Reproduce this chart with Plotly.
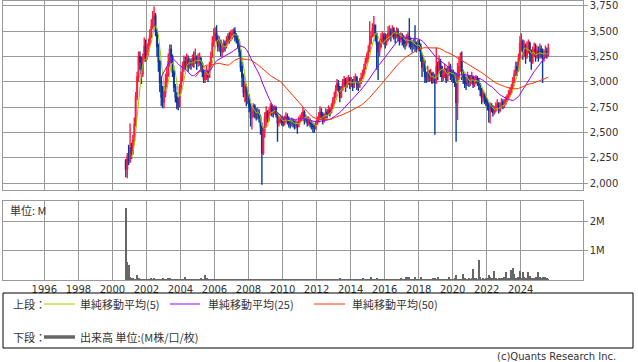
import pandas as pd
import plotly.graph_objects as go

# ---------------- data (monthly, Oct 2000 - Aug 2025) ----------------
start_month = "2000-10-01"
first_open = 2220

close_vals = [
    2140, 2260, 2220,
    2350, 2300, 2420, 2580, 2850, 3050, 3250, 3200, 3080, 3230, 3350, 3250,
    3300, 3380, 3450, 3550, 3620, 3650, 3500, 3350, 3200, 3000, 2850, 2800,
    2900, 3000, 3080, 3200, 3320, 3250, 3100, 2950, 2850, 2800, 2760, 2950,
    3050, 3150, 3200, 3180, 3220, 3150, 3200, 3180, 3230, 3200, 3250, 3190,
    3200, 3230, 3180, 3100, 3030, 3060, 3100, 3050, 3150, 3250, 3380, 3450,
    3480, 3420, 3350, 3400, 3300, 3320, 3380, 3360, 3400, 3450, 3430, 3470,
    3480, 3500, 3450, 3420, 3400, 3300, 3150, 3050, 2900, 2950, 2820, 2850,
    2750, 2650, 2700, 2760, 2700, 2660, 2700, 2650, 2560, 2300, 2520, 2650,
    2700, 2640, 2700, 2750, 2720, 2700, 2740, 2680, 2600, 2620, 2640, 2610,
    2600, 2620, 2650, 2630, 2600, 2580, 2610, 2600, 2570, 2590, 2560, 2620,
    2640, 2660, 2700, 2620, 2640, 2600, 2620, 2590, 2570, 2560, 2540, 2580,
    2620, 2650, 2700, 2680, 2620, 2650, 2700, 2680, 2720, 2700, 2740, 2800,
    2850, 2920, 2980, 2950, 2850, 2920, 2980, 3020, 2960, 3000, 3030, 2980,
    3000, 2950, 3020, 3040, 2980, 2950, 3000, 3040, 3080, 3130, 3200, 3250,
    3300, 3380, 3450, 3520, 3560, 3480, 3380, 3300, 3350, 3420, 3450, 3430,
    3400, 3420, 3480, 3500, 3460, 3520, 3480, 3450, 3500, 3460, 3420, 3450,
    3420, 3400, 3380, 3420, 3450, 3400, 3380, 3350, 3380, 3360, 3340, 3380,
    3350, 3250, 3150, 3200, 3050, 3020, 3100, 3050, 3080, 3000, 3050, 2990,
    3150, 3100, 3200, 3150, 3050, 3080, 3120, 3020, 3100, 3150, 3080, 3050,
    3050, 3000, 2800, 3050, 3150, 3200, 3100, 3050, 3000, 2980, 3050, 3000,
    3020, 3050, 2980, 3000, 3030, 3000, 2980, 2920, 2850, 2880, 2830, 2800,
    2780, 2720, 2760, 2740, 2700, 2720, 2760, 2780, 2720, 2760, 2800, 2780,
    2790, 2820, 2850, 2880, 2900, 2940, 3000, 3080, 3150, 3120, 3230, 3380,
    3400, 3300, 3350, 3250, 3300, 3380, 3280, 3200, 3280, 3320, 3250, 3300,
    3250, 3320, 3300, 3230, 3270, 3300, 3280, 3330,
]

high_vals = [
    2240, 2300, 2380,
    2590, 2400, 2480, 2650, 2900, 3100, 3300, 3300, 3250, 3280, 3440, 3420,
    3380, 3430, 3520, 3620, 3700, 3745, 3680, 3520, 3380, 3220, 3050, 2960,
    2960, 3080, 3150, 3280, 3370, 3370, 3270, 3120, 2980, 2900, 2850, 2980,
    3100, 3200, 3260, 3250, 3280, 3260, 3240, 3230, 3270, 3300, 3330, 3260,
    3280, 3290, 3250, 3200, 3120, 3100, 3160, 3120, 3200, 3300, 3450, 3530,
    3540, 3560, 3460, 3450, 3420, 3380, 3420, 3410, 3450, 3480, 3490, 3510,
    3520, 3530, 3540, 3480, 3460, 3420, 3320, 3200, 3080, 3000, 2980, 2920,
    2880, 2790, 2760, 2790, 2780, 2740, 2750, 2730, 2680, 2600, 2560, 2700,
    2760, 2720, 2740, 2790, 2780, 2760, 2770, 2760, 2700, 2660, 2680, 2660,
    2650, 2670, 2700, 2690, 2660, 2630, 2650, 2640, 2620, 2630, 2610, 2660,
    2680, 2700, 2755, 2720, 2680, 2660, 2660, 2640, 2620, 2600, 2590, 2620,
    2660, 2700, 2760, 2740, 2700, 2690, 2740, 2730, 2770, 2750, 2790, 2850,
    2900, 2970, 3030, 3020, 2960, 2960, 3030, 3060, 3040, 3050, 3070, 3050,
    3050, 3030, 3060, 3080, 3060, 3010, 3040, 3090, 3120, 3180, 3240, 3290,
    3360, 3600, 3500, 3580, 3650, 3560, 3480, 3400, 3420, 3480, 3500, 3480,
    3480, 3470, 3550, 3560, 3530, 3560, 3540, 3500, 3540, 3530, 3480, 3490,
    3480, 3460, 3440, 3470, 3490, 3630, 3440, 3410, 3430, 3560, 3400, 3420,
    3420, 3380, 3280, 3260, 3220, 3100, 3160, 3120, 3130, 3100, 3100, 3080,
    3340, 3200, 3260, 3230, 3160, 3130, 3180, 3140, 3150, 3200, 3180, 3120,
    3120, 3100, 3090, 3190, 3250, 3290, 3300, 3120, 3080, 3050, 3100, 3070,
    3060, 3100, 3060, 3050, 3070, 3060, 3040, 2990, 2940, 2920, 2900, 2870,
    2840, 2800, 2800, 2790, 2770, 2760, 2800, 2830, 2800, 2800, 2840, 2830,
    2830, 2860, 2880, 2920, 2950, 2980, 3050, 3120, 3200, 3200, 3280, 3450,
    3480, 3420, 3410, 3380, 3400, 3420, 3400, 3320, 3350, 3390, 3380, 3360,
    3350, 3380, 3360, 3330, 3320, 3360, 3340, 3380,
]

low_vals = [
    2060, 2050, 2180,
    2200, 2240, 2280, 2400, 2560, 2820, 3000, 3120, 2980, 3050, 3200, 3200,
    3220, 3260, 3350, 3430, 3520, 3540, 3450, 3250, 3100, 2900, 2760, 2740,
    2740, 2850, 2950, 3050, 3150, 3180, 3050, 2900, 2800, 2730, 2720, 2750,
    2900, 3000, 3100, 3120, 3150, 3100, 3130, 3120, 3150, 3140, 3180, 3120,
    3150, 3160, 3100, 3050, 2990, 2990, 3020, 3000, 3040, 3120, 3240, 3350,
    3400, 3380, 3300, 3300, 3250, 3250, 3290, 3300, 3330, 3370, 3380, 3400,
    3420, 3440, 3400, 3380, 3330, 3250, 3100, 2950, 2850, 2800, 2760, 2780,
    2700, 2560, 2530, 2650, 2640, 2620, 2630, 2600, 2480, 1985, 2280, 2450,
    2560, 2600, 2610, 2670, 2660, 2650, 2680, 2650, 2410, 2560, 2590, 2570,
    2560, 2570, 2600, 2580, 2550, 2540, 2560, 2550, 2530, 2540, 2490, 2560,
    2590, 2610, 2620, 2580, 2600, 2560, 2570, 2550, 2530, 2500, 2500, 2530,
    2580, 2600, 2640, 2630, 2580, 2600, 2640, 2640, 2670, 2660, 2690, 2730,
    2780, 2840, 2920, 2900, 2800, 2840, 2920, 2950, 2900, 2940, 2970, 2930,
    2950, 2910, 2940, 2990, 2920, 2910, 2950, 2980, 3030, 3060, 3120, 3180,
    3200, 3300, 3380, 3440, 3450, 3400, 3120, 3020, 3250, 3330, 3380, 3370,
    3330, 3360, 3400, 3420, 3400, 3440, 3420, 3380, 3430, 3400, 3360, 3390,
    3360, 3340, 3320, 3350, 3380, 3340, 3320, 3290, 3320, 3300, 3290, 3320,
    3300, 3200, 3050, 3100, 2990, 2990, 3000, 3000, 3010, 2980, 2990, 2480,
    2990, 3020, 3080, 3050, 3000, 3010, 3040, 2990, 3010, 3060, 3020, 3000,
    2990, 2950, 2410, 2625, 3020, 3100, 3020, 2980, 2940, 2920, 2960, 2950,
    2960, 2980, 2940, 2950, 2980, 2960, 2920, 2860, 2780, 2800, 2780, 2760,
    2720, 2600, 2590, 2700, 2660, 2680, 2700, 2730, 2690, 2700, 2740, 2730,
    2740, 2770, 2800, 2830, 2860, 2880, 2930, 2990, 3060, 3060, 3100, 3200,
    3300, 3220, 3250, 3180, 3230, 3280, 3200, 3120, 3180, 3250, 3200, 3230,
    3200, 3230, 3240, 2990, 3200, 3240, 3230, 3250,
]

volume_m = [
    2.48, 0.62, 0.52,
    0.12, 0.08, 0.06, 0.05, 0.04, 0.17, 0.07, 0.05, 0.03, 0.04, 0.03, 0.04,
    0.03, 0.02, 0.04, 0.06, 0.03, 0.06, 0.02, 0.03, 0.02, 0.03, 0.02, 0.06,
    0.02, 0.03, 0.02, 0.06, 0.06, 0.02, 0.03, 0.04, 0.02, 0.03, 0.02, 0.02,
    0.04, 0.02, 0.02, 0.11, 0.03, 0.02, 0.02, 0.03, 0.05, 0.02, 0.02, 0.03,
    0.02, 0.04, 0.08, 0.02, 0.03, 0.17, 0.07, 0.02, 0.03, 0.04, 0.02, 0.03,
    0.02, 0.03, 0.04, 0.02, 0.02, 0.04, 0.02, 0.03, 0.02, 0.02, 0.04, 0.02,
    0.02, 0.03, 0.02, 0.02, 0.04, 0.02, 0.02, 0.03, 0.02, 0.02, 0.03, 0.02,
    0.02, 0.02, 0.03, 0.02, 0.02, 0.02, 0.02, 0.02, 0.03, 0.04, 0.02, 0.02,
    0.02, 0.02, 0.02, 0.02, 0.02, 0.02, 0.02, 0.02, 0.04, 0.02, 0.02, 0.02,
    0.03, 0.02, 0.02, 0.03, 0.02, 0.02, 0.03, 0.02, 0.02, 0.02, 0.03, 0.02,
    0.02, 0.03, 0.03, 0.02, 0.02, 0.02, 0.03, 0.02, 0.02, 0.03, 0.02, 0.02,
    0.03, 0.02, 0.02, 0.03, 0.02, 0.02, 0.02, 0.03, 0.02, 0.02, 0.02, 0.03,
    0.03, 0.02, 0.04, 0.02, 0.06, 0.02, 0.03, 0.02, 0.02, 0.04, 0.02, 0.03,
    0.03, 0.03, 0.02, 0.02, 0.04, 0.02, 0.02, 0.03, 0.06, 0.02, 0.03, 0.02,
    0.03, 0.05, 0.09, 0.03, 0.05, 0.04, 0.06, 0.05, 0.03, 0.03, 0.02, 0.03,
    0.03, 0.02, 0.03, 0.02, 0.02, 0.03, 0.02, 0.02, 0.05, 0.03, 0.02, 0.06,
    0.02, 0.03, 0.03, 0.09, 0.08, 0.09, 0.03, 0.04, 0.03, 0.10, 0.04, 0.03,
    0.04, 0.10, 0.03, 0.03, 0.03, 0.03, 0.03, 0.05, 0.03, 0.03, 0.06, 0.07,
    0.03, 0.09, 0.04, 0.03, 0.03, 0.04, 0.03, 0.04, 0.04, 0.12, 0.03, 0.04,
    0.05, 0.06, 0.16, 0.05, 0.04, 0.05, 0.05, 0.20, 0.06, 0.04, 0.05, 0.06,
    0.05, 0.08, 0.37, 0.06, 0.07, 0.05, 0.68, 0.10, 0.05, 0.06, 0.05, 0.07,
    0.06, 0.18, 0.09, 0.06, 0.05, 0.31, 0.08, 0.05, 0.06, 0.05, 0.06, 0.07,
    0.10, 0.28, 0.07, 0.06, 0.08, 0.36, 0.40, 0.20, 0.07, 0.08, 0.09, 0.32,
    0.07, 0.26, 0.09, 0.08, 0.07, 0.29, 0.14, 0.07, 0.08, 0.06, 0.09, 0.08,
    0.26, 0.09, 0.08, 0.10, 0.07, 0.10, 0.06, 0.02,
]

year_ticks = ["1996", "1998", "2000", "2002", "2004", "2006", "2008", "2010",
              "2012", "2014", "2016", "2018", "2020", "2022", "2024"]
price_ticks = [2000, 2250, 2500, 2750, 3000, 3250, 3500, 3750]
vol_ticks = [1, 2]
vol_tick_text = ["1M", "2M"]
ma_periods = [5, 25, 50]
ma_colors = ["#99cc00", "#9900ff", "#ff3300"]
ma_labels = ["単純移動平均(5)", "単純移動平均(25)", "単純移動平均(50)"]

# ---------------- build ----------------
n = len(close_vals)
dates = pd.date_range(start=start_month, periods=n, freq="MS") + pd.Timedelta(days=14)
df = pd.DataFrame({"date": dates, "close": close_vals, "high": high_vals,
                   "low": low_vals, "vol": volume_m})
df["open"] = df["close"].shift(1).fillna(first_open)
df["high"] = df[["high", "open", "close"]].max(axis=1)
df["low"] = df[["low", "open", "close"]].min(axis=1)

W, H = 638, 362
def px(x):
    return x / W
def py(y):
    return 1 - y / H

GRID = "#999999"
TXT = "#333333"
RED = "#ff1a40"
BLUE = "#0a3a99"
FONT = "DejaVu Sans"
JFONT = "Noto Sans CJK JP"

tick_dates = [f"{y}-01-01" for y in year_ticks]

fig = go.Figure()
fig.add_trace(go.Candlestick(
    x=df["date"], open=df["open"], high=df["high"], low=df["low"], close=df["close"],
    increasing=dict(line=dict(color=RED, width=1.4), fillcolor=RED),
    decreasing=dict(line=dict(color=BLUE, width=1.4), fillcolor=BLUE),
    whiskerwidth=0, xaxis="x", yaxis="y", showlegend=False, hoverinfo="skip"))

for p, c in zip(ma_periods, ma_colors):
    ma = df["close"].rolling(p).mean()
    fig.add_trace(go.Scatter(x=df["date"], y=ma, mode="lines",
                             line=dict(color=c, width=1), xaxis="x", yaxis="y",
                             showlegend=False, hoverinfo="skip"))

fig.add_trace(go.Bar(x=df["date"], y=df["vol"], marker=dict(color="#666666", line=dict(width=0)),
                     width=45 * 24 * 3600 * 1000, xaxis="x2", yaxis="y2",
                     showlegend=False, hoverinfo="skip"))

xr = ["1993-08-03", "2027-08-24"]
x_dom = [px(3.3), px(582.7)]
common_x = dict(type="date", range=xr, domain=x_dom, showgrid=True, gridcolor=GRID,
                gridwidth=1, tickmode="array", tickvals=tick_dates, ticktext=year_ticks,
                showline=True, linecolor=GRID, linewidth=1, mirror=True, zeroline=False,
                rangeslider=dict(visible=False), fixedrange=True)

fig.update_layout(
    width=W, height=H, margin=dict(l=0, r=0, t=0, b=0),
    paper_bgcolor="white", plot_bgcolor="white",
    font=dict(family=FONT, size=10, color=TXT),
    bargap=0,
    xaxis=dict(common_x, anchor="y", showticklabels=False, ticks=""),
    xaxis2=dict(common_x, anchor="y2", matches="x", showticklabels=True, ticks="",
                tickfont=dict(family=FONT, size=10, color=TXT)),
    yaxis=dict(domain=[py(190), py(1)], range=[1934, 3799], side="right",
               tickvals=price_ticks, tickformat=",d", showgrid=True, gridcolor=GRID,
               ticks="outside", ticklen=4, tickcolor=GRID, showline=True,
               linecolor=GRID, mirror=True, zeroline=False, fixedrange=True,
               tickfont=dict(family=FONT, size=10, color=TXT), anchor="x"),
    yaxis2=dict(domain=[py(280), py(201)], range=[0, 2.72], side="right",
                tickvals=vol_ticks, ticktext=vol_tick_text, showgrid=True, gridcolor=GRID,
                ticks="outside", ticklen=4, tickcolor=GRID, showline=True,
                linecolor=GRID, mirror=True, zeroline=False, fixedrange=True,
                tickfont=dict(family=FONT, size=10, color=TXT), anchor="x2"),
)

shapes = []
annotations = []
shapes.append(dict(type="rect", xref="paper", yref="paper", x0=px(3), x1=px(633),
                   y0=py(348), y1=py(293), line=dict(color="#000000", width=1)))
row1_y = 304
row2_y = 337
annotations.append(dict(text="上段：", x=px(11), y=py(row1_y), xref="paper", yref="paper",
                        xanchor="left", yanchor="middle", showarrow=False,
                        font=dict(family=JFONT, size=11, color=TXT)))
seg = [(44, 75, 78), (170, 200, 206), (314, 345, 350)]
for (x0, x1, tx), c, lab in zip(seg, ma_colors, ma_labels):
    shapes.append(dict(type="line", xref="paper", yref="paper", x0=px(x0), x1=px(x1),
                       y0=py(row1_y), y1=py(row1_y), line=dict(color=c, width=1)))
    annotations.append(dict(text=lab, x=px(tx), y=py(row1_y), xref="paper", yref="paper",
                            xanchor="left", yanchor="middle", showarrow=False,
                            font=dict(family=JFONT, size=11, color=TXT)))
annotations.append(dict(text="下段：", x=px(11), y=py(row2_y), xref="paper", yref="paper",
                        xanchor="left", yanchor="middle", showarrow=False,
                        font=dict(family=JFONT, size=11, color=TXT)))
shapes.append(dict(type="line", xref="paper", yref="paper", x0=px(44), x1=px(75),
                   y0=py(row2_y), y1=py(row2_y), line=dict(color="#666666", width=3.5)))
annotations.append(dict(text="出来高 単位:(M株/口/枚)", x=px(78), y=py(row2_y),
                        xref="paper", yref="paper", xanchor="left", yanchor="middle",
                        showarrow=False, font=dict(family=JFONT, size=11, color=TXT)))
annotations.append(dict(text="単位: M", x=px(8), y=py(210), xref="paper", yref="paper",
                        xanchor="left", yanchor="middle", showarrow=False,
                        font=dict(family=JFONT, size=11, color=TXT)))
annotations.append(dict(text="(c)Quants Research Inc.", x=px(618), y=py(356),
                        xref="paper", yref="paper", xanchor="right", yanchor="middle",
                        showarrow=False, font=dict(family=FONT, size=10, color=TXT)))
fig.update_layout(shapes=shapes, annotations=annotations)

fig.write_html("out.html", config={"displayModeBar": False, "staticPlot": True},
               post_script="document.body.style.margin='0';document.body.style.overflow='hidden';")
